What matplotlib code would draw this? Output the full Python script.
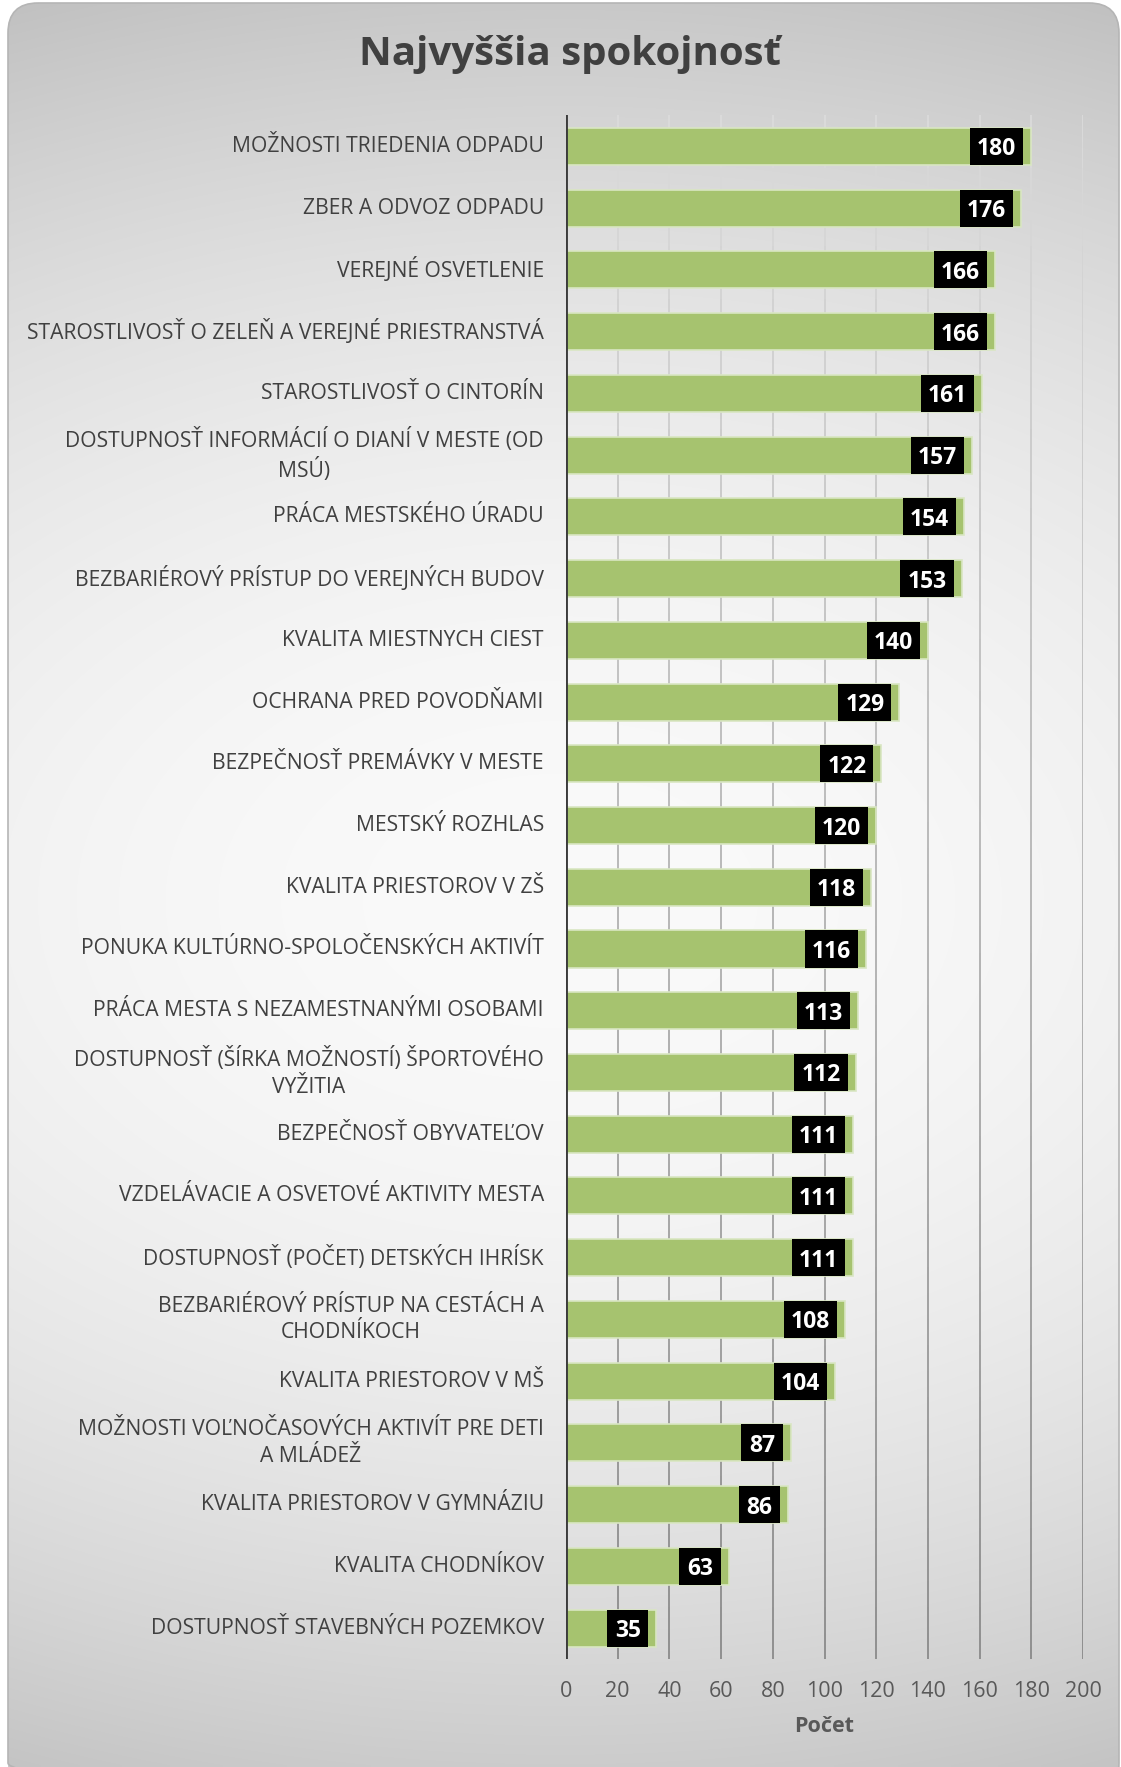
import numpy as np
import matplotlib
matplotlib.use("Agg")
import matplotlib.pyplot as plt
from matplotlib.patches import FancyBboxPatch, Rectangle
from matplotlib.collections import LineCollection

plt.rcParams['font.family'] = ['Open Sans', 'DejaVu Sans']

# kategórie zhora nadol a počty odpovedí
kategorie = [
    "MOŽNOSTI TRIEDENIA ODPADU",
    "ZBER A ODVOZ ODPADU",
    "VEREJNÉ OSVETLENIE",
    "STAROSTLIVOSŤ O ZELEŇ A VEREJNÉ PRIESTRANSTVÁ",
    "STAROSTLIVOSŤ O CINTORÍN",
    "DOSTUPNOSŤ INFORMÁCIÍ O DIANÍ V MESTE (OD\nMSÚ)",
    "PRÁCA MESTSKÉHO ÚRADU",
    "BEZBARIÉROVÝ PRÍSTUP DO VEREJNÝCH BUDOV",
    "KVALITA MIESTNYCH CIEST",
    "OCHRANA PRED POVODŇAMI",
    "BEZPEČNOSŤ PREMÁVKY V MESTE",
    "MESTSKÝ ROZHLAS",
    "KVALITA PRIESTOROV V ZŠ",
    "PONUKA KULTÚRNO-SPOLOČENSKÝCH AKTIVÍT",
    "PRÁCA MESTA S NEZAMESTNANÝMI OSOBAMI",
    "DOSTUPNOSŤ (ŠÍRKA MOŽNOSTÍ) ŠPORTOVÉHO\nVYŽITIA",
    "BEZPEČNOSŤ OBYVATEĽOV",
    "VZDELÁVACIE A OSVETOVÉ AKTIVITY MESTA",
    "DOSTUPNOSŤ (POČET) DETSKÝCH IHRÍSK",
    "BEZBARIÉROVÝ PRÍSTUP NA CESTÁCH A\nCHODNÍKOCH",
    "KVALITA PRIESTOROV V MŠ",
    "MOŽNOSTI VOĽNOČASOVÝCH AKTIVÍT PRE DETI\nA MLÁDEŽ",
    "KVALITA PRIESTOROV V GYMNÁZIU",
    "KVALITA CHODNÍKOV",
    "DOSTUPNOSŤ STAVEBNÝCH POZEMKOV",
]
pocty = [180, 176, 166, 166, 161, 157, 154, 153, 140, 129, 122, 120, 118,
         116, 113, 112, 111, 111, 111, 108, 104, 87, 86, 63, 35]
x_ticky = list(range(0, 201, 20))

W, H = 1121, 1767
fig = plt.figure(figsize=(W / 100, H / 100), dpi=100)

# pozadie - zaoblený panel s prechodom sivej
bg = fig.add_axes([0, 0, 1, 1], zorder=-1)
bg.set_xlim(0, W)
bg.set_ylim(H, 0)
bg.axis('off')
yy, xx = np.mgrid[0:H:4, 0:W:4]
d = np.sqrt(((xx - 560) / 1400.0) ** 2 + ((yy - 900) / 900.0) ** 2)
shade = (250 - 50 * d ** 2) / 255.0
img = np.dstack([shade, shade, shade])
panel = FancyBboxPatch((8, 3), 1111, 1790, boxstyle="round,pad=0,rounding_size=30",
                       facecolor='none', edgecolor='#b5b5b5', linewidth=1.2)
bg.add_patch(panel)
im = bg.imshow(img, extent=(0, W, H, 0), aspect='auto', interpolation='bilinear')
im.set_clip_path(panel)

ax = fig.add_axes([566 / W, 1 - 1659 / H, 517 / W, 1543.5 / H])
ax.patch.set_alpha(0)
ax.set_xlim(0, 200)
ax.set_ylim(len(kategorie) - 0.5, -0.5)

# mriežka - tmavne smerom nadol
seg_y = np.linspace(-0.5, len(kategorie) - 0.5, 60)
segs, cols = [], []
for gx in x_ticky[1:]:
    for k in range(len(seg_y) - 1):
        segs.append([(gx, seg_y[k]), (gx, seg_y[k + 1])])
        t = k / (len(seg_y) - 2)
        c = 0.86 - 0.32 * t
        cols.append((c, c, c))
ax.add_collection(LineCollection(segs, colors=cols, linewidths=1.3, zorder=1))

y = np.arange(len(kategorie))
ax.barh(y, pocty, height=0.6, color='#a6c36f', edgecolor='#d9e6c3',
        linewidth=1.2, zorder=2)

ppu = 517 / 200.0
for i, v in enumerate(pocty):
    txt = str(v)
    w = (18 + 11.7 * len(txt)) / ppu
    right = v - 8 / ppu
    ax.add_patch(Rectangle((right - w, i - 0.3), w, 0.6, facecolor='black',
                           edgecolor='none', zorder=3))
    ax.text(right - w / 2, i, txt, color='white', fontsize=16.5, fontweight='bold',
            ha='center', va='center_baseline', zorder=4)

ax.axvline(0, color='#3c3c3c', linewidth=2.8, zorder=5)

ax.set_yticks(y)
ax.set_yticklabels(kategorie, fontsize=15.2, color='#404040',
                   multialignment='center', linespacing=1.35, va='center')
ax.set_xticks(x_ticky)
ax.set_xticklabels([str(t) for t in x_ticky], fontsize=15.5, color='#595959')
ax.tick_params(axis='both', length=0)
ax.tick_params(axis='y', pad=16)
ax.tick_params(axis='x', pad=16)
for s in ax.spines.values():
    s.set_visible(False)

ax.set_xlabel("Počet", fontsize=15.5, fontweight='bold', color='#595959', labelpad=10)

fig.text(570 / W, 1 - 55 / H, "Najvyššia spokojnosť", fontsize=29, fontweight='bold',
         color='#404040', ha='center', va='center')

fig.savefig("out.png", dpi=100)
